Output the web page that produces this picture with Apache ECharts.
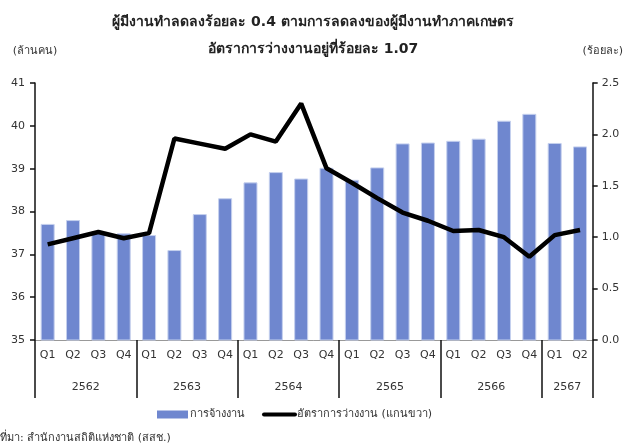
<!DOCTYPE html>
<html>
<head>
<meta charset="utf-8">
<script src="https://cdn.jsdelivr.net/npm/echarts@6/dist/echarts.min.js"></script>
<style>
html,body{margin:0;padding:0;background:#fff;}
#chart{width:626px;height:446px;}
</style>
</head>
<body>
<div id="chart"></div>
<script>
const quarters = ['Q1','Q2','Q3','Q4','Q1','Q2','Q3','Q4','Q1','Q2','Q3','Q4','Q1','Q2','Q3','Q4','Q1','Q2','Q3','Q4','Q1','Q2']
const years = ['2562','2563','2564','2565','2566','2567']
const yearBounds = [0, 4, 8, 12, 16, 20, 22]
// การจ้างงาน (ล้านคน)
const employed = [37.71, 37.80, 37.52, 37.49, 37.45, 37.10, 37.94, 38.31, 38.68, 38.92, 38.77, 39.02,
    38.74, 39.03, 39.59, 39.61, 39.65, 39.70, 40.12, 40.28, 39.60, 39.52]
// อัตราการว่างงาน (ร้อยละ)
const unemployRate = [0.93, 0.99, 1.05, 0.99, 1.04, 1.96, 1.91, 1.86, 2.00, 1.93, 2.30, 1.67,
    1.53, 1.38, 1.24, 1.16, 1.06, 1.07, 1.00, 0.81, 1.02, 1.07]

const font = 'Tahoma, "DejaVu Sans", sans-serif'
const yearMid = years.map((y, i) => (yearBounds[i] + yearBounds[i + 1]) / 2)

const myChart = echarts.init(document.getElementById('chart'))
const option = {
    textStyle: { fontFamily: font },
    title: {
        text: 'ผู้มีงานทำลดลงร้อยละ 0.4 ตามการลดลงของผู้มีงานทำภาคเกษตร\nอัตราการว่างงานอยู่ที่ร้อยละ 1.07',
        left: 'center',
        top: 4,
        textStyle: { fontSize: 14, fontWeight: 'bold', color: '#222', lineHeight: 27, fontFamily: font }
    },
    legend: {
        bottom: 21,
        left: 152,
        itemGap: 17,
        textStyle: { fontSize: 11, color: '#333', padding: [0, 0, 0, -3] },
        data: [
            { name: 'การจ้างงาน', icon: 'rect', itemStyle: { color: '#6f87cf', borderWidth: 0 } },
            { name: 'อัตราการว่างงาน (แกนขวา)', itemStyle: { opacity: 0 }, lineStyle: { width: 4, color: '#000', cap: 'round' } }
        ],
        itemWidth: 31,
        itemHeight: 8
    },
    graphic: [{
        type: 'text',
        left: 0,
        bottom: 2,
        style: { text: 'ที่มา: สำนักงานสถิติแห่งชาติ (สสช.)', fontSize: 11, fill: '#333', fontFamily: font }
    }],
    grid: { left: 35, right: 29, top: 83, bottom: 106 },
    xAxis: [
        {
            type: 'category',
            data: quarters,
            axisLine: { lineStyle: { color: '#999', width: 1 } },
            axisTick: { show: false },
            axisLabel: { color: '#333', fontSize: 11, margin: 10, interval: 0 }
        },
        {
            type: 'value',
            position: 'bottom',
            min: 0,
            max: 22,
            interval: 1,
            axisLine: { show: false },
            splitLine: { show: false },
            axisTick: {
                show: true,
                customValues: yearBounds,
                length: 58,
                lineStyle: { color: '#111', width: 1.5 }
            },
            axisLabel: {
                customValues: yearMid,
                margin: 42,
                color: '#333',
                fontSize: 11,
                formatter: (v) => years[yearMid.indexOf(v)] || ''
            }
        }
    ],
    yAxis: [
        {
            type: 'value',
            min: 35,
            max: 41,
            interval: 1,
            name: '(ล้านคน)',
            nameGap: 26,
            nameTextStyle: { color: '#333', fontSize: 11 },
            axisLine: { show: true, lineStyle: { color: '#111', width: 1.5 } },
            axisTick: { show: true, length: 5, lineStyle: { color: '#111', width: 1.5 } },
            axisLabel: { color: '#333', fontSize: 11, margin: 10 },
            splitLine: { show: false }
        },
        {
            type: 'value',
            min: 0,
            max: 2.5,
            interval: 0.5,
            name: '(ร้อยละ)',
            nameGap: 26,
            nameTextStyle: { color: '#333', fontSize: 11, padding: [0, 0, 0, 20] },
            axisLine: { show: true, lineStyle: { color: '#111', width: 1.5 } },
            axisTick: { show: true, length: 5, lineStyle: { color: '#111', width: 1.5 } },
            axisLabel: { color: '#333', fontSize: 11, margin: 9, formatter: (v) => v.toFixed(1) },
            splitLine: { show: false }
        }
    ],
    series: [
        {
            name: 'การจ้างงาน',
            type: 'bar',
            data: employed,
            barWidth: 14,
            itemStyle: { color: '#6f87cf', borderColor: '#c5d0ee', borderWidth: 1 }
        },
        {
            name: 'อัตราการว่างงาน (แกนขวา)',
            type: 'line',
            yAxisIndex: 1,
            data: unemployRate,
            showSymbol: false,
            symbol: 'none',
            lineStyle: { color: '#000', width: 4.5 },
            itemStyle: { color: '#000' }
        }
    ]
}
myChart.setOption(option)
</script>
</body>
</html>
